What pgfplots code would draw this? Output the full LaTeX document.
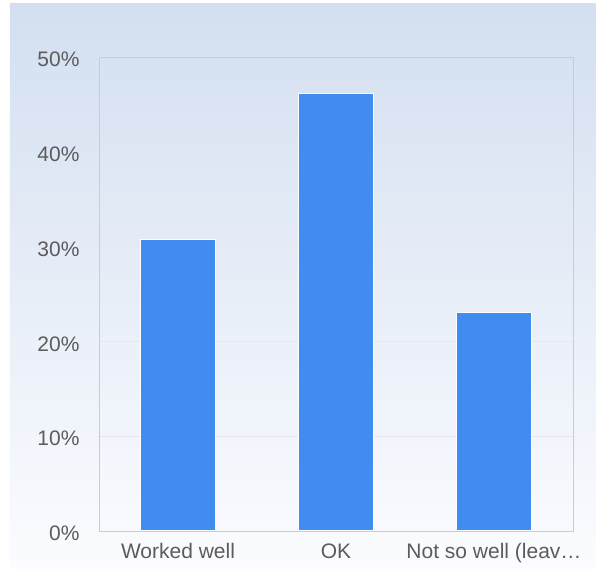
\documentclass[border=0pt]{standalone}
\usepackage{pgfplots}
\pgfplotsset{compat=1.18}
\usepackage{fontspec}
\setmainfont{Liberation Sans}

\definecolor{barblue}{HTML}{418CF0}
\definecolor{bgtop}{HTML}{D3DFF0}
\definecolor{bgbottom}{HTML}{FBFCFF}
\definecolor{ticktext}{HTML}{5C5C5C}
\definecolor{frame}{HTML}{CCCCCC}
\definecolor{gridc}{HTML}{E4E8EE}

\begin{document}
\begin{tikzpicture}[x=1bp,y=1bp]
  % page extent and the soft blue panel behind the chart
  \path (-99,-38) rectangle (497,531);
  \shade[top color=bgtop, bottom color=bgbottom] (-89,-38) rectangle (497,527);
  \begin{axis}[
    at={(0,0)}, anchor=south west,
    scale only axis,
    width=474bp, height=474bp,
    xmin=-0.5, xmax=2.5,
    ymin=0, ymax=50,
    ytick={0,10,20,30,40,50},
    yticklabels={0\%,10\%,20\%,30\%,40\%,50\%},
    xtick={0,1,2},
    xticklabels={Worked well,OK,Not so well (leav…},
    major tick length=0pt,
    axis line style={draw=frame, line width=0.8bp},
    ymajorgrids,
    grid style={draw=gridc, line width=0.8bp},
    ticklabel style={font=\fontsize{21bp}{24bp}\selectfont, text=ticktext},
    yticklabel style={xshift=-16bp, yshift=-2.5bp},
    xticklabel style={yshift=-9bp},
    ybar, bar width=75bp, bar shift=0pt,
  ]
    \addplot[fill=barblue, draw=white, line width=1bp]
      coordinates {(0,30.77) (1,46.15) (2,23.08)};
  \end{axis}
\end{tikzpicture}
\end{document}
